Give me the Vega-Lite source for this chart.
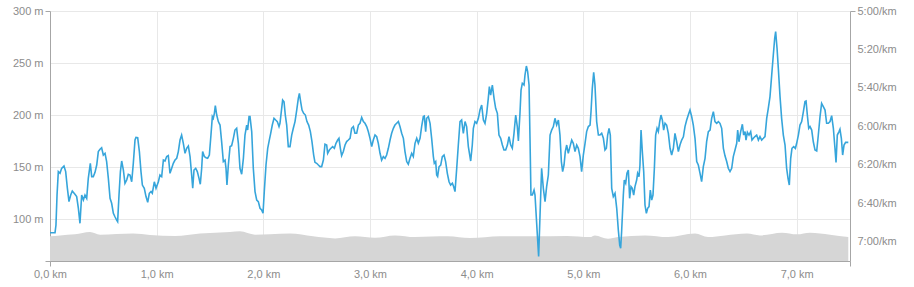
{
  "$schema": "https://vega.github.io/schema/vega-lite/v6.json",
  "autosize": {"type": "none"},
  "width": 800,
  "height": 250,
  "padding": {"left": 50, "top": 11, "right": 64, "bottom": 26},
  "background": "white",
  "config": {
    "view": {"stroke": null},
    "font": "Liberation Sans",
    "axis": {"labelFont": "Liberation Sans", "labelFontSize": 11, "labelColor": "#8c8c8c", "domainColor": "#a6a6a6", "gridColor": "#e8e8e8", "tickColor": "#a6a6a6", "tickSize": 5, "labelPadding": 2, "title": null}
  },
  "datasets": {
    "elev": [
      {"km": 0.0, "elev": 83.7}, {"km": 0.094, "elev": 84.6}, {"km": 0.234, "elev": 85.6}, {"km": 0.375, "elev": 87.8},
      {"km": 0.469, "elev": 85.3}, {"km": 0.778, "elev": 86.3}, {"km": 0.938, "elev": 84.9}, {"km": 1.172, "elev": 83.9},
      {"km": 1.406, "elev": 86.3}, {"km": 1.688, "elev": 87.8}, {"km": 1.781, "elev": 88.5}, {"km": 1.922, "elev": 85.3},
      {"km": 2.063, "elev": 85.6}, {"km": 2.25, "elev": 86.3}, {"km": 2.466, "elev": 83.7}, {"km": 2.672, "elev": 81.7},
      {"km": 2.859, "elev": 83.7}, {"km": 3.047, "elev": 82.4}, {"km": 3.234, "elev": 84.6}, {"km": 3.422, "elev": 83.0},
      {"km": 3.731, "elev": 83.7}, {"km": 3.938, "elev": 82.0}, {"km": 4.219, "elev": 83.7}, {"km": 4.528, "elev": 83.7},
      {"km": 4.847, "elev": 84.0}, {"km": 5.063, "elev": 83.0}, {"km": 5.109, "elev": 84.6}, {"km": 5.231, "elev": 81.4},
      {"km": 5.325, "elev": 83.0}, {"km": 5.578, "elev": 84.6}, {"km": 5.794, "elev": 83.0}, {"km": 6.047, "elev": 86.3},
      {"km": 6.169, "elev": 83.0}, {"km": 6.328, "elev": 84.6}, {"km": 6.534, "elev": 86.3}, {"km": 6.656, "elev": 84.6},
      {"km": 6.863, "elev": 87.2}, {"km": 7.003, "elev": 85.6}, {"km": 7.125, "elev": 87.2}, {"km": 7.313, "elev": 85.3},
      {"km": 7.484, "elev": 83.0}
    ],
    "pace": [
      {"km": 0.0, "pace": 415.3}, {"km": 0.047, "pace": 415.3}, {"km": 0.056, "pace": 411.3}, {"km": 0.066, "pace": 395.7},
      {"km": 0.078, "pace": 383.5}, {"km": 0.094, "pace": 384.4}, {"km": 0.109, "pace": 381.8}, {"km": 0.131, "pace": 380.6},
      {"km": 0.147, "pace": 383.5}, {"km": 0.163, "pace": 392.2}, {"km": 0.178, "pace": 399.1}, {"km": 0.194, "pace": 395.7},
      {"km": 0.209, "pace": 393.6}, {"km": 0.234, "pace": 395.3}, {"km": 0.25, "pace": 396.5}, {"km": 0.266, "pace": 402.6},
      {"km": 0.281, "pace": 410.4}, {"km": 0.297, "pace": 395.7}, {"km": 0.313, "pace": 398.3}, {"km": 0.328, "pace": 395.7},
      {"km": 0.344, "pace": 397.4}, {"km": 0.359, "pace": 387.0}, {"km": 0.378, "pace": 379.2}, {"km": 0.391, "pace": 386.1},
      {"km": 0.406, "pace": 386.1}, {"km": 0.422, "pace": 383.9}, {"km": 0.438, "pace": 380.1}, {"km": 0.453, "pace": 373.1},
      {"km": 0.469, "pace": 371.9}, {"km": 0.484, "pace": 371.1}, {"km": 0.5, "pace": 374.9}, {"km": 0.516, "pace": 374.0},
      {"km": 0.531, "pace": 378.3}, {"km": 0.547, "pace": 387.0}, {"km": 0.563, "pace": 397.4}, {"km": 0.578, "pace": 400.0},
      {"km": 0.594, "pace": 405.2}, {"km": 0.609, "pace": 407.0}, {"km": 0.625, "pace": 408.7}, {"km": 0.634, "pace": 409.5},
      {"km": 0.647, "pace": 395.7}, {"km": 0.66, "pace": 383.5}, {"km": 0.672, "pace": 378.0}, {"km": 0.688, "pace": 382.7},
      {"km": 0.703, "pace": 389.6}, {"km": 0.719, "pace": 387.9}, {"km": 0.734, "pace": 384.9}, {"km": 0.75, "pace": 385.3},
      {"km": 0.766, "pace": 388.8}, {"km": 0.781, "pace": 379.2}, {"km": 0.797, "pace": 367.1}, {"km": 0.806, "pace": 365.7},
      {"km": 0.822, "pace": 365.9}, {"km": 0.838, "pace": 373.1}, {"km": 0.853, "pace": 383.5}, {"km": 0.866, "pace": 390.5},
      {"km": 0.884, "pace": 392.2}, {"km": 0.9, "pace": 396.5}, {"km": 0.916, "pace": 399.5}, {"km": 0.931, "pace": 394.8},
      {"km": 0.947, "pace": 393.9}, {"km": 0.959, "pace": 394.8}, {"km": 0.978, "pace": 388.8}, {"km": 0.994, "pace": 392.2},
      {"km": 1.016, "pace": 388.8}, {"km": 1.031, "pace": 385.3}, {"km": 1.047, "pace": 386.1}, {"km": 1.063, "pace": 377.5},
      {"km": 1.078, "pace": 378.0}, {"km": 1.094, "pace": 375.7}, {"km": 1.109, "pace": 375.2}, {"km": 1.125, "pace": 384.4},
      {"km": 1.141, "pace": 381.8}, {"km": 1.156, "pace": 379.2}, {"km": 1.172, "pace": 377.5}, {"km": 1.188, "pace": 376.6},
      {"km": 1.203, "pace": 373.1}, {"km": 1.219, "pace": 367.1}, {"km": 1.234, "pace": 364.5}, {"km": 1.25, "pace": 368.8},
      {"km": 1.266, "pace": 374.0}, {"km": 1.281, "pace": 371.4}, {"km": 1.297, "pace": 370.2}, {"km": 1.313, "pace": 375.7},
      {"km": 1.328, "pace": 385.3}, {"km": 1.338, "pace": 392.2}, {"km": 1.35, "pace": 382.7}, {"km": 1.366, "pace": 381.8},
      {"km": 1.381, "pace": 383.5}, {"km": 1.397, "pace": 387.0}, {"km": 1.409, "pace": 390.1}, {"km": 1.422, "pace": 381.8},
      {"km": 1.431, "pace": 373.1}, {"km": 1.447, "pace": 375.7}, {"km": 1.463, "pace": 376.3}, {"km": 1.478, "pace": 376.6},
      {"km": 1.494, "pace": 374.9}, {"km": 1.509, "pace": 364.5}, {"km": 1.522, "pace": 354.9}, {"km": 1.531, "pace": 355.8},
      {"km": 1.541, "pace": 353.2}, {"km": 1.55, "pace": 349.2}, {"km": 1.563, "pace": 354.1}, {"km": 1.578, "pace": 357.5},
      {"km": 1.594, "pace": 359.3}, {"km": 1.609, "pace": 367.9}, {"km": 1.625, "pace": 378.3}, {"km": 1.641, "pace": 377.5},
      {"km": 1.65, "pace": 381.8}, {"km": 1.659, "pace": 390.5}, {"km": 1.672, "pace": 380.1}, {"km": 1.688, "pace": 370.5},
      {"km": 1.703, "pace": 370.0}, {"km": 1.719, "pace": 366.2}, {"km": 1.734, "pace": 361.9}, {"km": 1.75, "pace": 361.0},
      {"km": 1.766, "pace": 368.8}, {"km": 1.781, "pace": 381.8}, {"km": 1.797, "pace": 384.9}, {"km": 1.813, "pace": 376.6},
      {"km": 1.828, "pace": 364.5}, {"km": 1.844, "pace": 359.3}, {"km": 1.853, "pace": 361.9}, {"km": 1.866, "pace": 354.9},
      {"km": 1.875, "pace": 354.9}, {"km": 1.891, "pace": 362.7}, {"km": 1.906, "pace": 381.8}, {"km": 1.922, "pace": 393.9},
      {"km": 1.938, "pace": 398.3}, {"km": 1.953, "pace": 399.1}, {"km": 1.969, "pace": 402.6}, {"km": 1.984, "pace": 403.5},
      {"km": 1.997, "pace": 405.2}, {"km": 2.009, "pace": 393.9}, {"km": 2.025, "pace": 380.1}, {"km": 2.041, "pace": 371.4},
      {"km": 2.056, "pace": 367.1}, {"km": 2.069, "pace": 363.6}, {"km": 2.084, "pace": 359.3}, {"km": 2.1, "pace": 355.8},
      {"km": 2.116, "pace": 356.7}, {"km": 2.131, "pace": 357.5}, {"km": 2.147, "pace": 360.1}, {"km": 2.156, "pace": 358.4},
      {"km": 2.172, "pace": 350.6}, {"km": 2.181, "pace": 346.3}, {"km": 2.194, "pace": 347.2}, {"km": 2.206, "pace": 354.1},
      {"km": 2.219, "pace": 359.3}, {"km": 2.234, "pace": 370.5}, {"km": 2.25, "pace": 370.5}, {"km": 2.266, "pace": 364.5},
      {"km": 2.281, "pace": 361.0}, {"km": 2.297, "pace": 357.5}, {"km": 2.313, "pace": 351.5}, {"km": 2.328, "pace": 345.4},
      {"km": 2.338, "pace": 342.8}, {"km": 2.35, "pace": 347.2}, {"km": 2.363, "pace": 351.5}, {"km": 2.378, "pace": 353.2},
      {"km": 2.394, "pace": 354.1}, {"km": 2.409, "pace": 357.5}, {"km": 2.425, "pace": 359.3}, {"km": 2.441, "pace": 362.7},
      {"km": 2.456, "pace": 367.9}, {"km": 2.472, "pace": 374.9}, {"km": 2.484, "pace": 378.7}, {"km": 2.5, "pace": 379.2},
      {"km": 2.516, "pace": 380.1}, {"km": 2.531, "pace": 380.9}, {"km": 2.547, "pace": 380.9}, {"km": 2.563, "pace": 377.5},
      {"km": 2.578, "pace": 369.3}, {"km": 2.594, "pace": 369.7}, {"km": 2.603, "pace": 374.0}, {"km": 2.619, "pace": 372.3},
      {"km": 2.634, "pace": 371.4}, {"km": 2.65, "pace": 370.5}, {"km": 2.666, "pace": 371.4}, {"km": 2.681, "pace": 368.8},
      {"km": 2.697, "pace": 367.1}, {"km": 2.709, "pace": 366.2}, {"km": 2.722, "pace": 371.4}, {"km": 2.734, "pace": 375.2},
      {"km": 2.75, "pace": 373.1}, {"km": 2.766, "pace": 369.7}, {"km": 2.781, "pace": 367.9}, {"km": 2.797, "pace": 367.1},
      {"km": 2.813, "pace": 366.2}, {"km": 2.828, "pace": 361.0}, {"km": 2.844, "pace": 360.1}, {"km": 2.859, "pace": 363.6},
      {"km": 2.875, "pace": 363.6}, {"km": 2.891, "pace": 359.3}, {"km": 2.906, "pace": 358.4}, {"km": 2.922, "pace": 355.3},
      {"km": 2.938, "pace": 357.5}, {"km": 2.953, "pace": 358.4}, {"km": 2.969, "pace": 360.1}, {"km": 2.984, "pace": 362.7},
      {"km": 3.0, "pace": 366.2}, {"km": 3.016, "pace": 370.5}, {"km": 3.031, "pace": 367.1}, {"km": 3.047, "pace": 364.5},
      {"km": 3.063, "pace": 365.4}, {"km": 3.078, "pace": 368.8}, {"km": 3.094, "pace": 374.0}, {"km": 3.109, "pace": 377.5},
      {"km": 3.125, "pace": 375.7}, {"km": 3.141, "pace": 376.6}, {"km": 3.156, "pace": 374.9}, {"km": 3.172, "pace": 371.4},
      {"km": 3.188, "pace": 367.1}, {"km": 3.203, "pace": 363.6}, {"km": 3.219, "pace": 361.0}, {"km": 3.234, "pace": 359.3},
      {"km": 3.25, "pace": 358.4}, {"km": 3.266, "pace": 357.5}, {"km": 3.281, "pace": 360.1}, {"km": 3.297, "pace": 363.6},
      {"km": 3.313, "pace": 366.2}, {"km": 3.328, "pace": 373.1}, {"km": 3.344, "pace": 378.3}, {"km": 3.359, "pace": 379.7},
      {"km": 3.375, "pace": 376.6}, {"km": 3.391, "pace": 374.0}, {"km": 3.406, "pace": 375.7}, {"km": 3.422, "pace": 368.8},
      {"km": 3.438, "pace": 366.2}, {"km": 3.453, "pace": 368.8}, {"km": 3.469, "pace": 366.2}, {"km": 3.484, "pace": 360.1},
      {"km": 3.5, "pace": 354.9}, {"km": 3.509, "pace": 354.6}, {"km": 3.522, "pace": 362.7}, {"km": 3.531, "pace": 355.8},
      {"km": 3.547, "pace": 354.9}, {"km": 3.563, "pace": 358.4}, {"km": 3.578, "pace": 366.2}, {"km": 3.594, "pace": 375.7},
      {"km": 3.603, "pace": 379.2}, {"km": 3.616, "pace": 378.3}, {"km": 3.625, "pace": 385.3}, {"km": 3.634, "pace": 386.1},
      {"km": 3.647, "pace": 381.0}, {"km": 3.663, "pace": 380.1}, {"km": 3.678, "pace": 375.7}, {"km": 3.694, "pace": 374.9},
      {"km": 3.709, "pace": 378.3}, {"km": 3.725, "pace": 384.4}, {"km": 3.741, "pace": 388.8}, {"km": 3.756, "pace": 390.5},
      {"km": 3.772, "pace": 389.6}, {"km": 3.784, "pace": 391.3}, {"km": 3.797, "pace": 393.9}, {"km": 3.813, "pace": 381.8},
      {"km": 3.828, "pace": 369.7}, {"km": 3.844, "pace": 357.5}, {"km": 3.859, "pace": 356.7}, {"km": 3.875, "pace": 363.6},
      {"km": 3.891, "pace": 357.5}, {"km": 3.906, "pace": 360.1}, {"km": 3.922, "pace": 370.5}, {"km": 3.944, "pace": 378.0},
      {"km": 3.959, "pace": 369.7}, {"km": 3.969, "pace": 361.0}, {"km": 3.984, "pace": 357.5}, {"km": 4.0, "pace": 358.4},
      {"km": 4.016, "pace": 355.8}, {"km": 4.031, "pace": 351.5}, {"km": 4.047, "pace": 348.9}, {"km": 4.063, "pace": 356.7},
      {"km": 4.078, "pace": 358.4}, {"km": 4.094, "pace": 353.2}, {"km": 4.109, "pace": 345.4}, {"km": 4.119, "pace": 339.3},
      {"km": 4.131, "pace": 343.7}, {"km": 4.147, "pace": 338.5}, {"km": 4.163, "pace": 345.4}, {"km": 4.178, "pace": 350.6},
      {"km": 4.194, "pace": 353.2}, {"km": 4.209, "pace": 364.5}, {"km": 4.225, "pace": 366.2}, {"km": 4.241, "pace": 369.7},
      {"km": 4.256, "pace": 372.3}, {"km": 4.272, "pace": 372.3}, {"km": 4.288, "pace": 369.7}, {"km": 4.303, "pace": 365.4},
      {"km": 4.319, "pace": 369.7}, {"km": 4.334, "pace": 371.4}, {"km": 4.35, "pace": 363.6}, {"km": 4.366, "pace": 354.1},
      {"km": 4.381, "pace": 360.1}, {"km": 4.391, "pace": 367.6}, {"km": 4.406, "pace": 353.2}, {"km": 4.416, "pace": 341.1},
      {"km": 4.428, "pace": 337.6}, {"km": 4.444, "pace": 338.5}, {"km": 4.453, "pace": 333.3}, {"km": 4.466, "pace": 328.6},
      {"km": 4.478, "pace": 331.5}, {"km": 4.491, "pace": 338.5}, {"km": 4.5, "pace": 366.2}, {"km": 4.509, "pace": 395.7},
      {"km": 4.522, "pace": 395.7}, {"km": 4.538, "pace": 393.1}, {"km": 4.547, "pace": 395.7}, {"km": 4.556, "pace": 404.3},
      {"km": 4.569, "pace": 416.5}, {"km": 4.581, "pace": 427.7}, {"km": 4.594, "pace": 406.1}, {"km": 4.609, "pace": 381.8},
      {"km": 4.625, "pace": 392.2}, {"km": 4.641, "pace": 399.1}, {"km": 4.656, "pace": 391.3}, {"km": 4.672, "pace": 385.3},
      {"km": 4.688, "pace": 364.5}, {"km": 4.703, "pace": 361.9}, {"km": 4.719, "pace": 360.1}, {"km": 4.734, "pace": 355.8},
      {"km": 4.75, "pace": 359.3}, {"km": 4.766, "pace": 356.7}, {"km": 4.781, "pace": 364.5}, {"km": 4.794, "pace": 378.3},
      {"km": 4.806, "pace": 383.5}, {"km": 4.819, "pace": 380.1}, {"km": 4.831, "pace": 373.1}, {"km": 4.844, "pace": 369.7},
      {"km": 4.859, "pace": 374.0}, {"km": 4.875, "pace": 370.5}, {"km": 4.891, "pace": 367.1}, {"km": 4.906, "pace": 368.8},
      {"km": 4.922, "pace": 373.1}, {"km": 4.938, "pace": 369.7}, {"km": 4.953, "pace": 371.4}, {"km": 4.969, "pace": 375.7},
      {"km": 4.984, "pace": 383.5}, {"km": 5.0, "pace": 374.9}, {"km": 5.016, "pace": 368.8}, {"km": 5.031, "pace": 362.7},
      {"km": 5.047, "pace": 360.1}, {"km": 5.063, "pace": 359.3}, {"km": 5.072, "pace": 352.3}, {"km": 5.084, "pace": 340.2},
      {"km": 5.097, "pace": 331.9}, {"km": 5.109, "pace": 338.5}, {"km": 5.125, "pace": 357.5}, {"km": 5.141, "pace": 364.5},
      {"km": 5.156, "pace": 364.5}, {"km": 5.172, "pace": 363.6}, {"km": 5.188, "pace": 366.2}, {"km": 5.203, "pace": 372.3},
      {"km": 5.216, "pace": 371.4}, {"km": 5.228, "pace": 364.5}, {"km": 5.241, "pace": 361.0}, {"km": 5.253, "pace": 364.5},
      {"km": 5.266, "pace": 392.2}, {"km": 5.281, "pace": 396.5}, {"km": 5.297, "pace": 394.8}, {"km": 5.313, "pace": 402.6},
      {"km": 5.328, "pace": 413.9}, {"km": 5.341, "pace": 421.7}, {"km": 5.35, "pace": 423.4}, {"km": 5.359, "pace": 414.7},
      {"km": 5.375, "pace": 395.7}, {"km": 5.384, "pace": 387.9}, {"km": 5.397, "pace": 389.6}, {"km": 5.409, "pace": 384.4},
      {"km": 5.422, "pace": 382.7}, {"km": 5.434, "pace": 397.4}, {"km": 5.447, "pace": 391.3}, {"km": 5.459, "pace": 392.2},
      {"km": 5.472, "pace": 395.7}, {"km": 5.484, "pace": 391.3}, {"km": 5.5, "pace": 387.9}, {"km": 5.509, "pace": 384.4},
      {"km": 5.522, "pace": 386.1}, {"km": 5.531, "pace": 380.1}, {"km": 5.541, "pace": 361.9}, {"km": 5.553, "pace": 373.1},
      {"km": 5.566, "pace": 383.5}, {"km": 5.578, "pace": 400.9}, {"km": 5.591, "pace": 405.2}, {"km": 5.603, "pace": 402.6},
      {"km": 5.616, "pace": 401.7}, {"km": 5.628, "pace": 393.1}, {"km": 5.641, "pace": 398.3}, {"km": 5.653, "pace": 395.7},
      {"km": 5.666, "pace": 381.8}, {"km": 5.678, "pace": 364.5}, {"km": 5.691, "pace": 361.0}, {"km": 5.703, "pace": 362.7},
      {"km": 5.716, "pace": 357.5}, {"km": 5.728, "pace": 354.1}, {"km": 5.741, "pace": 356.7}, {"km": 5.753, "pace": 361.9},
      {"km": 5.766, "pace": 358.4}, {"km": 5.781, "pace": 359.3}, {"km": 5.797, "pace": 363.6}, {"km": 5.813, "pace": 371.4},
      {"km": 5.828, "pace": 374.9}, {"km": 5.844, "pace": 371.4}, {"km": 5.859, "pace": 363.6}, {"km": 5.875, "pace": 368.0},
      {"km": 5.891, "pace": 373.1}, {"km": 5.906, "pace": 369.7}, {"km": 5.922, "pace": 367.1}, {"km": 5.938, "pace": 365.4},
      {"km": 5.953, "pace": 360.1}, {"km": 5.969, "pace": 356.7}, {"km": 5.984, "pace": 354.1}, {"km": 6.0, "pace": 351.5},
      {"km": 6.016, "pace": 355.0}, {"km": 6.031, "pace": 359.3}, {"km": 6.047, "pace": 366.2}, {"km": 6.063, "pace": 378.3},
      {"km": 6.078, "pace": 380.1}, {"km": 6.094, "pace": 384.4}, {"km": 6.109, "pace": 388.7}, {"km": 6.125, "pace": 380.9},
      {"km": 6.141, "pace": 376.6}, {"km": 6.156, "pace": 367.9}, {"km": 6.172, "pace": 362.7}, {"km": 6.188, "pace": 361.9},
      {"km": 6.203, "pace": 355.8}, {"km": 6.219, "pace": 352.3}, {"km": 6.234, "pace": 357.5}, {"km": 6.25, "pace": 358.4},
      {"km": 6.266, "pace": 357.5}, {"km": 6.281, "pace": 358.4}, {"km": 6.297, "pace": 361.0}, {"km": 6.313, "pace": 371.4},
      {"km": 6.328, "pace": 375.3}, {"km": 6.344, "pace": 378.3}, {"km": 6.359, "pace": 381.8}, {"km": 6.375, "pace": 383.5},
      {"km": 6.391, "pace": 381.8}, {"km": 6.406, "pace": 375.7}, {"km": 6.422, "pace": 372.3}, {"km": 6.438, "pace": 368.8},
      {"km": 6.447, "pace": 361.9}, {"km": 6.459, "pace": 368.0}, {"km": 6.475, "pace": 362.7}, {"km": 6.491, "pace": 358.9},
      {"km": 6.503, "pace": 364.5}, {"km": 6.516, "pace": 362.7}, {"km": 6.525, "pace": 367.1}, {"km": 6.538, "pace": 363.1},
      {"km": 6.553, "pace": 364.5}, {"km": 6.569, "pace": 362.7}, {"km": 6.581, "pace": 367.1}, {"km": 6.594, "pace": 366.2},
      {"km": 6.609, "pace": 365.3}, {"km": 6.625, "pace": 364.5}, {"km": 6.641, "pace": 367.1}, {"km": 6.656, "pace": 365.3},
      {"km": 6.672, "pace": 367.1}, {"km": 6.688, "pace": 366.2}, {"km": 6.703, "pace": 365.3}, {"km": 6.719, "pace": 355.8},
      {"km": 6.734, "pace": 350.6}, {"km": 6.75, "pace": 344.5}, {"km": 6.766, "pace": 333.3}, {"km": 6.781, "pace": 322.9},
      {"km": 6.794, "pace": 314.2}, {"km": 6.803, "pace": 310.7}, {"km": 6.816, "pace": 319.4}, {"km": 6.828, "pace": 329.8},
      {"km": 6.844, "pace": 344.5}, {"km": 6.859, "pace": 355.8}, {"km": 6.875, "pace": 364.5}, {"km": 6.891, "pace": 369.7},
      {"km": 6.906, "pace": 381.8}, {"km": 6.919, "pace": 387.0}, {"km": 6.931, "pace": 390.5}, {"km": 6.944, "pace": 376.6},
      {"km": 6.956, "pace": 371.4}, {"km": 6.972, "pace": 370.5}, {"km": 6.988, "pace": 371.4}, {"km": 7.0, "pace": 368.8},
      {"km": 7.016, "pace": 364.5}, {"km": 7.031, "pace": 359.3}, {"km": 7.047, "pace": 357.5}, {"km": 7.063, "pace": 352.3},
      {"km": 7.078, "pace": 347.1}, {"km": 7.088, "pace": 346.8}, {"km": 7.1, "pace": 354.1}, {"km": 7.113, "pace": 361.0},
      {"km": 7.125, "pace": 360.1}, {"km": 7.141, "pace": 361.9}, {"km": 7.156, "pace": 368.0}, {"km": 7.172, "pace": 372.3},
      {"km": 7.188, "pace": 372.8}, {"km": 7.203, "pace": 364.5}, {"km": 7.219, "pace": 354.9}, {"km": 7.234, "pace": 348.0},
      {"km": 7.25, "pace": 349.7}, {"km": 7.266, "pace": 351.5}, {"km": 7.281, "pace": 358.4}, {"km": 7.297, "pace": 358.4},
      {"km": 7.313, "pace": 357.5}, {"km": 7.328, "pace": 354.4}, {"km": 7.344, "pace": 361.0}, {"km": 7.359, "pace": 371.4},
      {"km": 7.369, "pace": 378.7}, {"km": 7.381, "pace": 364.5}, {"km": 7.397, "pace": 362.7}, {"km": 7.406, "pace": 361.5},
      {"km": 7.419, "pace": 366.2}, {"km": 7.431, "pace": 374.9}, {"km": 7.444, "pace": 369.7}, {"km": 7.459, "pace": 368.3},
      {"km": 7.484, "pace": 368.3}
    ]
  },
  "layer": [
    {
      "data": {"name": "elev"},
      "mark": {"type": "area", "color": "#d6d6d6", "opacity": 1, "interpolate": "monotone", "clip": true},
      "encoding": {
        "x": {
          "field": "km", "type": "quantitative",
          "scale": {"domain": [0, 7.5], "nice": false, "zero": false},
          "axis": {
            "values": [0, 1, 2, 3, 4, 5, 6, 7, 7.5],
            "labelExpr": "datum.value == 7.5 ? '' : replace(format(datum.value, '.1f'), '.', ',') + ' km'",
            "grid": true,
            "gridColor": {"condition": {"test": "datum.value == 0 || datum.value == 7.5", "value": "transparent"}, "value": "#e8e8e8"},
            "tickColor": {"condition": {"test": "datum.value == 0 || datum.value == 7.5", "value": "#a6a6a6"}, "value": "transparent"},
            "labelPadding": 2,
            "labelFlush": false
          }
        },
        "y": {
          "field": "elev", "type": "quantitative",
          "scale": {"domain": [60, 300], "nice": false, "zero": false},
          "axis": {
            "orient": "left",
            "values": [60, 100, 150, 200, 250, 300],
            "labelExpr": "datum.value == 60 ? '' : datum.value + ' m'",
            "grid": true,
            "tickColor": {"condition": {"test": "datum.value == 60 || datum.value == 300", "value": "#a6a6a6"}, "value": "transparent"},
            "labelPadding": 2,
            "labelFlush": false
          }
        }
      }
    },
    {
      "data": {"name": "pace"},
      "mark": {"type": "line", "color": "#36a5db", "strokeWidth": 1.6, "clip": true},
      "encoding": {
        "x": {"field": "km", "type": "quantitative"},
        "y": {
          "field": "pace", "type": "quantitative",
          "scale": {"domain": [300, 430], "nice": false, "zero": false, "reverse": true},
          "axis": {
            "orient": "right",
            "values": [300, 320, 340, 360, 380, 400, 420],
            "labelExpr": "floor(datum.value / 60) + ':' + (datum.value % 60 < 10 ? '0' : '') + (datum.value % 60) + '/km'",
            "grid": false,
            "tickColor": {"condition": {"test": "datum.value == 300", "value": "#a6a6a6"}, "value": "transparent"},
            "labelPadding": 2,
            "labelFlush": false
          }
        }
      }
    }
  ],
  "resolve": {"scale": {"y": "independent"}}
}
